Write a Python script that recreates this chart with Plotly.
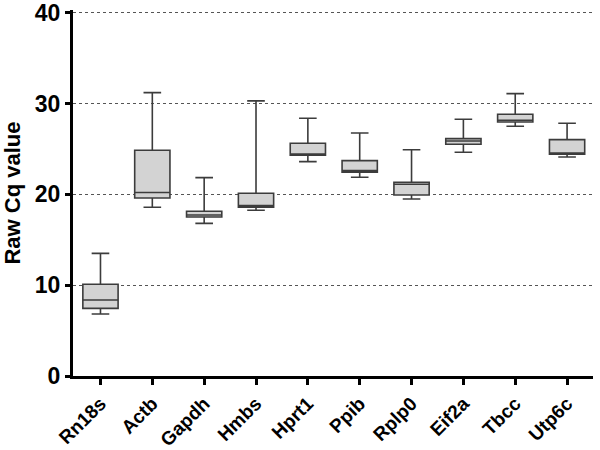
import plotly.graph_objects as go

genes = ["Rn18s", "Actb", "Gapdh", "Hmbs", "Hprt1", "Ppib", "Rplp0", "Eif2a", "Tbcc", "Utp6c"]
cq_min = [6.83, 18.58, 16.8, 18.25, 23.6, 21.88, 19.49, 24.64, 27.5, 24.12]
cq_q1 = [7.45, 19.6, 17.5, 18.58, 24.3, 22.43, 19.93, 25.52, 27.97, 24.41]
cq_median = [8.37, 20.2, 17.73, 18.76, 24.45, 22.61, 21.11, 25.88, 28.16, 24.56]
cq_q3 = [10.1, 24.85, 18.14, 20.12, 25.63, 23.71, 21.33, 26.14, 28.82, 26.03]
cq_max = [13.5, 31.2, 21.84, 30.29, 28.38, 26.76, 24.92, 28.27, 31.09, 27.83]

font = "Liberation Sans, Arial, sans-serif"

fig = go.Figure()
fig.add_trace(go.Box(
    x=genes, q1=cq_q1, median=cq_median, q3=cq_q3,
    lowerfence=cq_min, upperfence=cq_max,
    fillcolor="#d3d3d3", line=dict(color="#3c3c3c", width=1.6),
    width=0.68, whiskerwidth=0.5, boxpoints=False, showlegend=False,
))

fig.update_layout(
    width=600, height=450,
    margin=dict(l=73, r=7, t=10, b=74),
    plot_bgcolor="white", paper_bgcolor="white",
    font=dict(family=font, color="black"),
)
fig.update_xaxes(
    type="category", range=[-0.53, 9.5], automargin=False,
    showline=True, linecolor="black", linewidth=3,
    ticks="outside", ticklen=6, tickwidth=3, tickcolor="black",
    tickangle=-45, tickfont=dict(size=19, family=font, weight="bold"),
    showgrid=False,
)
fig.update_yaxes(
    range=[0, 40.3], tickvals=[0, 10, 20, 30, 40], automargin=False,
    showline=True, linecolor="black", linewidth=3,
    ticks="outside", ticklen=5, tickwidth=3, tickcolor="black",
    tickfont=dict(size=23, family=font, weight="bold"), ticklabeloverflow="allow",
    showgrid=True, gridcolor="#555555", gridwidth=1, griddash="dot",
    zeroline=False,
    title=dict(text="Raw Cq value", font=dict(size=22, family=font, weight="bold"), standoff=21),
)

# drop the default page margin so the figure sits at the window's corner
fig.write_html("out.html", config={"displayModeBar": False},
               post_script="document.body.style.margin='0';")
